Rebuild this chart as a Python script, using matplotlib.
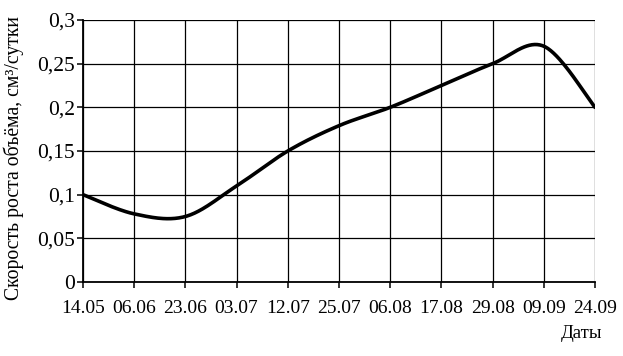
import numpy as np
import matplotlib
matplotlib.use("Agg")
import matplotlib.pyplot as plt

dates = ["14.05", "06.06", "23.06", "03.07", "12.07", "25.07", "06.08",
         "17.08", "29.08", "09.09", "24.09"]
rate = [0.100, 0.078, 0.075, 0.110, 0.150, 0.179, 0.200, 0.225, 0.250, 0.270, 0.200]
yticks = [0, 0.05, 0.1, 0.15, 0.2, 0.25, 0.3]
ytick_labels = ["0", "0,05", "0,1", "0,15", "0,2", "0,25", "0,3"]


def smooth(xs, ys, n=40):
    # Excel-style smoothed line (Catmull-Rom Bezier)
    xs = np.asarray(xs, float)
    ys = np.asarray(ys, float)
    px, py = [], []
    m = len(xs)
    for i in range(m - 1):
        x0, y0 = (xs[i - 1], ys[i - 1]) if i > 0 else (xs[i], ys[i])
        x1, y1 = xs[i], ys[i]
        x2, y2 = xs[i + 1], ys[i + 1]
        x3, y3 = (xs[i + 2], ys[i + 2]) if i + 2 < m else (xs[i + 1], ys[i + 1])
        c1x, c1y = x1 + (x2 - x0) / 6, y1 + (y2 - y0) / 6
        c2x, c2y = x2 - (x3 - x1) / 6, y2 - (y3 - y1) / 6
        t = np.linspace(0, 1, n)
        bx = (1 - t) ** 3 * x1 + 3 * (1 - t) ** 2 * t * c1x + 3 * (1 - t) * t ** 2 * c2x + t ** 3 * x2
        by = (1 - t) ** 3 * y1 + 3 * (1 - t) ** 2 * t * c1y + 3 * (1 - t) * t ** 2 * c2y + t ** 3 * y2
        px.extend(bx)
        py.extend(by)
    return np.array(px), np.array(py)


plt.rcParams['font.family'] = ['Liberation Serif', 'DejaVu Serif']

fig = plt.figure(figsize=(6.23, 3.56), dpi=100)
ax = fig.add_axes([83 / 623, 1 - 282 / 356, (595 - 83) / 623, (282 - 20) / 356])

x = np.arange(len(dates))
sx, sy = smooth(x, rate)
ax.plot(sx, sy, color='black', lw=2.6, solid_capstyle='round', zorder=3)

ax.set_xlim(0, len(dates) - 1)
ax.set_ylim(0, 0.3)
ax.set_xticks(x)
ax.set_xticklabels(dates, fontsize=14)
ax.set_yticks(yticks)
ax.set_yticklabels(ytick_labels, fontsize=15.5)
ax.grid(True, color='black', lw=0.9)
ax.set_axisbelow(True)

for s in ['top', 'right']:
    ax.spines[s].set_visible(False)
for s in ['left', 'bottom']:
    ax.spines[s].set_linewidth(1.3)
ax.tick_params(axis='both', direction='out', length=4, width=1.1, color='black')
ax.tick_params(axis='x', pad=9)
ax.tick_params(axis='y', pad=2)

fig.text(14 / 623, 1 - 158 / 356, "Скорость роста объёма, см³/сутки", fontsize=14.2,
         rotation=90, ha='center', va='center')
fig.text(602 / 623, 1 - 333 / 356, "Даты", fontsize=13.5, ha='right', va='center')

fig.savefig("out.png", dpi=100)
